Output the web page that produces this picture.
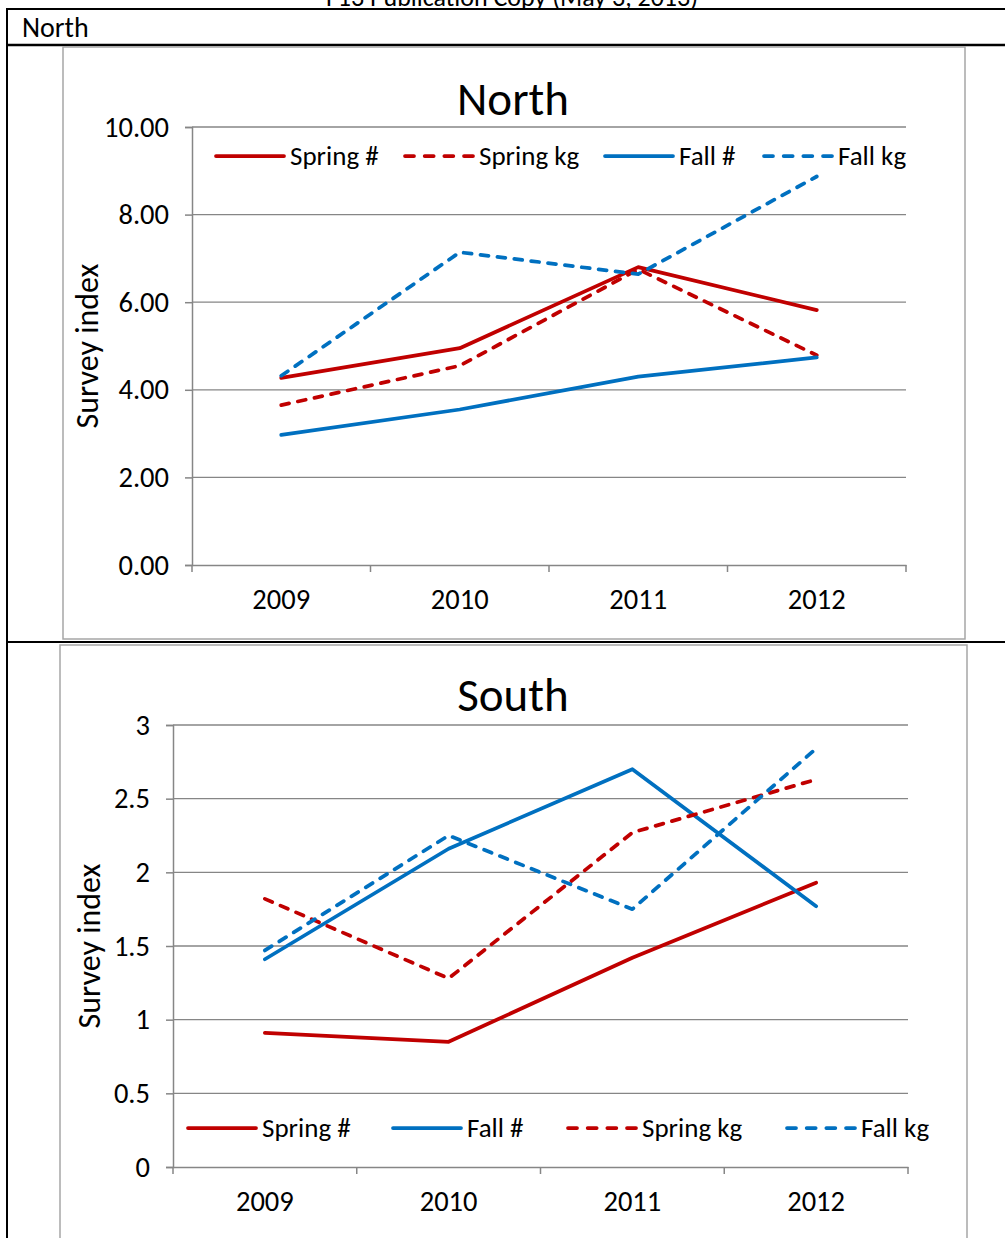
<!DOCTYPE html>
<html>
<head>
<meta charset="utf-8">
<script src="https://cdn.jsdelivr.net/npm/d3@7"></script>
<style>
  body { margin: 0; background: #fff; }
  svg { display: block; font-family: Carlito, Calibri, 'Open Sans', sans-serif; }
</style>
</head>
<body>
<div id="page"></div>
<script>
// survey years
const years = ['2009', '2010', '2011', '2012']

// North panel
const northSpringN = [4.27, 4.95, 6.8, 5.82]
const northSpringKg = [3.65, 4.55, 6.75, 4.79]
const northFallN = [2.97, 3.55, 4.3, 4.74]
const northFallKg = [4.32, 7.14, 6.64, 8.87]
const northTicks = [0, 2, 4, 6, 8, 10]

// South panel
const southSpringN = [0.91, 0.85, 1.42, 1.93]
const southFallN = [1.41, 2.16, 2.7, 1.77]
const southSpringKg = [1.82, 1.28, 2.27, 2.63]
const southFallKg = [1.47, 2.25, 1.75, 2.84]
const southTicks = [0, 0.5, 1, 1.5, 2, 2.5, 3]

const red = '#c00000'
const blue = '#0070c0'
const gridColor = '#868686'
const fontFamily = "Carlito, Calibri, 'Open Sans', sans-serif"

const svg = d3
  .select('#page')
  .append('svg')
  .attr('width', 1005)
  .attr('height', 1238)

svg.append('rect').attr('width', 1005).attr('height', 1238).attr('fill', '#fff')

// page header, cut off at the top like the scan
svg
  .append('text')
  .attr('x', 512)
  .attr('y', 6)
  .attr('text-anchor', 'middle')
  .attr('font-size', 26)
  .text('F13 Publication Copy (May 3, 2013)')

// table lines
const table = svg.append('g').attr('stroke', '#000')
table.append('line').attr('x1', 6).attr('x2', 1005).attr('y1', 9).attr('y2', 9).attr('stroke-width', 2)
table.append('line').attr('x1', 7).attr('x2', 7).attr('y1', 8).attr('y2', 1238).attr('stroke-width', 2)
table.append('line').attr('x1', 6).attr('x2', 1005).attr('y1', 45).attr('y2', 45).attr('stroke-width', 2.5)
table.append('line').attr('x1', 6).attr('x2', 1005).attr('y1', 642).attr('y2', 642).attr('stroke-width', 2)

svg
  .append('text')
  .attr('x', 22)
  .attr('y', 37)
  .attr('font-size', 28)
  .text('North')

function drawChart(opts) {
  const g = svg.append('g')

  // chart frame
  g.append('rect')
    .attr('x', opts.box[0])
    .attr('y', opts.box[1])
    .attr('width', opts.box[2])
    .attr('height', opts.box[3])
    .attr('fill', '#fff')
    .attr('stroke', '#a6a6a6')
    .attr('stroke-width', 1.5)

  const xScale = d3
    .scaleBand()
    .domain(years)
    .range([opts.left, opts.right])

  const yScale = d3
    .scaleLinear()
    .domain([opts.ticks[0], opts.ticks[opts.ticks.length - 1]])
    .range([opts.bottom, opts.top])

  // gridlines
  g.selectAll('.grid')
    .data(opts.ticks.slice(1))
    .enter()
    .append('line')
    .attr('x1', opts.left)
    .attr('x2', opts.right)
    .attr('y1', d => yScale(d))
    .attr('y2', d => yScale(d))
    .attr('stroke', gridColor)
    .attr('stroke-width', 1.3)

  // y axis
  const yAxis = g
    .append('g')
    .attr('transform', 'translate(' + opts.left + ',0)')
    .call(
      d3
        .axisLeft(yScale)
        .tickValues(opts.ticks)
        .tickFormat(opts.format)
        .tickSize(7)
        .tickPadding(16)
    )

  // x axis, ticks sit between the categories
  const xAxis = g
    .append('g')
    .attr('transform', 'translate(0,' + opts.bottom + ')')
    .call(
      d3
        .axisBottom(xScale)
        .tickSize(0)
        .tickPadding(24)
    )
  xAxis
    .selectAll('.edge')
    .data(years.concat(['end']))
    .enter()
    .append('line')
    .attr('class', 'edge')
    .attr('x1', (d, i) => (i < years.length ? xScale(d) : opts.right))
    .attr('x2', (d, i) => (i < years.length ? xScale(d) : opts.right))
    .attr('y1', 0)
    .attr('y2', 7)

  for (const axis of [yAxis, xAxis]) {
    axis.selectAll('path, line').attr('stroke', gridColor).attr('stroke-width', 1.5)
    axis
      .selectAll('text')
      .attr('fill', '#000')
      .attr('font-size', 28.5)
      .attr('font-family', fontFamily)
  }

  // title
  g.append('text')
    .attr('x', opts.titleX)
    .attr('y', opts.titleY)
    .attr('text-anchor', 'middle')
    .attr('font-size', 47)
    .text(opts.title)

  // y label
  g.append('text')
    .attr('transform', 'translate(' + opts.labelX + ',' + (opts.top + opts.bottom) / 2 + ') rotate(-90)')
    .attr('text-anchor', 'middle')
    .attr('font-size', 32)
    .text('Survey index')

  const line = d3
    .line()
    .x((d, i) => xScale(years[i]) + xScale.bandwidth() / 2)
    .y(d => yScale(d))

  g.selectAll('.series')
    .data(opts.series)
    .enter()
    .append('path')
    .attr('class', 'series')
    .attr('d', d => line(d.values))
    .attr('fill', 'none')
    .attr('stroke', d => d.color)
    .attr('stroke-width', 3.75)
    .attr('stroke-linejoin', 'round')
    .attr('stroke-linecap', 'round')
    .attr('stroke-dasharray', d => (d.dashed ? '8 9' : null))

  // legend
  const legend = g
    .selectAll('.legend')
    .data(opts.series)
    .enter()
    .append('g')
    .attr('class', 'legend')
    .attr('transform', (d, i) => 'translate(' + opts.legendX[i] + ',' + opts.legendY + ')')

  legend
    .append('line')
    .attr('x1', 0)
    .attr('x2', 68)
    .attr('stroke', d => d.color)
    .attr('stroke-width', 3.75)
    .attr('stroke-linecap', 'round')
    .attr('stroke-dasharray', d => (d.dashed ? '9 10.67' : null))

  legend
    .append('text')
    .attr('x', 74)
    .attr('y', 9)
    .attr('font-size', 27)
    .text(d => d.name)
}

drawChart({
  title: 'North',
  box: [63, 47, 902, 592],
  left: 192,
  right: 906,
  top: 127,
  bottom: 565,
  titleX: 513,
  titleY: 115,
  labelX: 98,
  ticks: northTicks,
  format: d3.format('.2f'),
  legendY: 156,
  legendX: [216, 405, 605, 764],
  series: [
    { name: 'Spring #', values: northSpringN, color: red, dashed: false },
    { name: 'Spring kg', values: northSpringKg, color: red, dashed: true },
    { name: 'Fall #', values: northFallN, color: blue, dashed: false },
    { name: 'Fall kg', values: northFallKg, color: blue, dashed: true }
  ]
})

drawChart({
  title: 'South',
  box: [60, 645, 907, 610],
  left: 173,
  right: 908,
  top: 725,
  bottom: 1167,
  titleX: 513,
  titleY: 711,
  labelX: 100,
  ticks: southTicks,
  format: d3.format('~g'),
  legendY: 1128,
  legendX: [188, 393, 568, 787],
  series: [
    { name: 'Spring #', values: southSpringN, color: red, dashed: false },
    { name: 'Fall #', values: southFallN, color: blue, dashed: false },
    { name: 'Spring kg', values: southSpringKg, color: red, dashed: true },
    { name: 'Fall kg', values: southFallKg, color: blue, dashed: true }
  ]
})
</script>
</body>
</html>
